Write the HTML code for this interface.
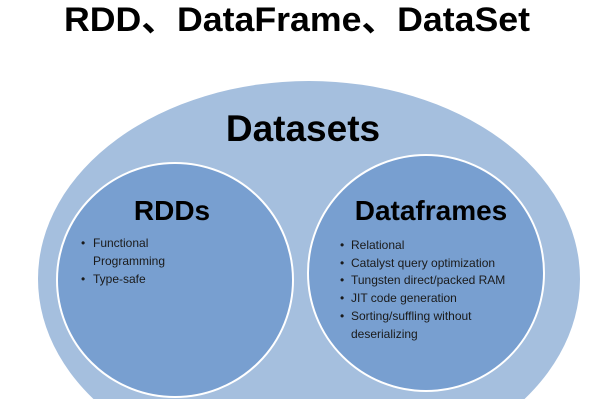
<!DOCTYPE html>
<html><head><meta charset="utf-8"><style>
html,body{margin:0;padding:0;background:#fff;width:598px;height:412px;overflow:hidden}
svg{display:block}
</style></head><body>
<svg width="598" height="412" viewBox="0 0 598 412" xmlns="http://www.w3.org/2000/svg" font-family="'Liberation Sans','Noto Sans CJK SC',sans-serif">
<defs><clipPath id="c"><rect x="0" y="0" width="598" height="399"/></clipPath></defs>
<text x="297" y="31" text-anchor="middle" font-size="34" font-weight="bold" fill="#000" textLength="466" lengthAdjust="spacingAndGlyphs">RDD、DataFrame、DataSet</text>
<g clip-path="url(#c)">
<ellipse cx="309" cy="279" rx="271" ry="198" fill="#a5bfde"/>
<ellipse cx="175" cy="280" rx="118" ry="117" fill="#789fd0" stroke="#fff" stroke-width="2"/>
<ellipse cx="426" cy="273" rx="118" ry="118" fill="#789fd0" stroke="#fff" stroke-width="2"/>
</g>
<text x="303" y="141" text-anchor="middle" font-size="37" font-weight="bold" fill="#000">Datasets</text>
<text x="172" y="220" text-anchor="middle" font-size="28" font-weight="bold" fill="#000">RDDs</text>
<text x="431" y="220" text-anchor="middle" font-size="28" font-weight="bold" fill="#000">Dataframes</text>
<g font-size="12" fill="#1a1a1a">
<text x="81" y="247">•</text><text x="93" y="247">Functional</text>
<text x="93" y="265">Programming</text>
<text x="81" y="283">•</text><text x="93" y="283">Type-safe</text>
<text x="340" y="249">•</text><text x="351" y="249">Relational</text>
<text x="340" y="267">•</text><text x="351" y="267">Catalyst query optimization</text>
<text x="340" y="284">•</text><text x="351" y="284">Tungsten direct/packed RAM</text>
<text x="340" y="302">•</text><text x="351" y="302">JIT code generation</text>
<text x="340" y="320">•</text><text x="351" y="320">Sorting/suffling without</text>
<text x="351" y="338">deserializing</text>
</g>
</svg>
</body></html>
